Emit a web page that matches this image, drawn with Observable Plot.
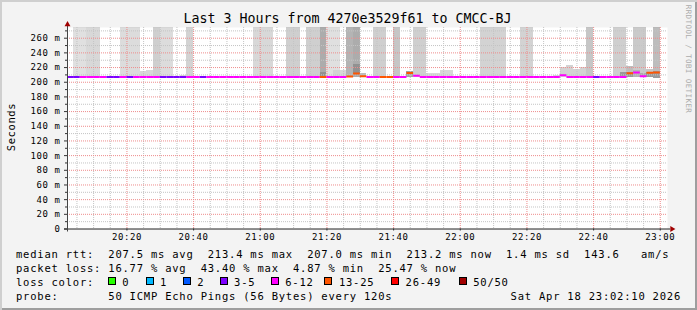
<!DOCTYPE html>
<html>
<head>
<meta charset="utf-8">
<script src="https://cdn.jsdelivr.net/npm/d3@7"></script>
<script src="https://cdn.jsdelivr.net/npm/@observablehq/plot@0.6"></script>
<style>
  html, body { margin: 0; padding: 0; background: #f3f3f3; }
  #chart { position: relative; width: 697px; height: 310px; background: #f3f3f3; overflow: hidden;
           font-family: "DejaVu Sans Mono", monospace; color: #000; }
  #chart svg { position: absolute; left: 0; top: 0; }
  #chart .txt { position: absolute; white-space: pre; font-size: 10.5px; letter-spacing: 0.78px; line-height: 14px; height: 14px; }
  #title { position: absolute; left: 0; width: 695px; top: 11.4px; text-align: center; font-size: 13.3px; line-height: 16px; white-space: pre; }
  #ylabel { position: absolute; left: -19.5px; top: 120px; width: 60px; height: 14px; line-height: 14px; text-align: center;
            font-size: 10.5px; letter-spacing: 0.6px; transform: rotate(-90deg); white-space: pre; }
  #mark { position: absolute; left: 627.7px; top: 54px; width: 120px; height: 10px; line-height: 10px; text-align: center;
          font-size: 7.5px; letter-spacing: 0.42px; color: #ababab; transform: rotate(90deg); white-space: pre; }
  .sq { position: absolute; width: 8px; height: 8px; box-sizing: border-box; border: 1px solid #000; }
  #frame3d { position: absolute; left: 0; top: 0; width: 697px; height: 310px; pointer-events: none;
             box-shadow: inset 2px 2px 0 #cfcfcf, inset -2px -2px 0 #9e9e9e; }
</style>
</head>
<body>
<div id="chart"></div>
<script>
// ---------------- data ----------------
const titleText = "Last 3 Hours from 4270e3529f61 to CMCC-BJ";
const yLabelText = "Seconds";
const watermarkText = "RRDTOOL / TOBI OETIKER";

// 2-minute probe slots, first slot starts 20:02
const slotStart = new Date(2026, 3, 18, 20, 2, 0);
const slotMinutes = 2;
const viewStart = new Date(2026, 3, 18, 20, 2, 10);
const viewEnd = new Date(2026, 3, 18, 23, 2, 10);
const yTop = 274.6;

// median rtt per slot (ms)
const medianRtt = [
  207.3,207.3,207.3,207.3,207.3,207.3,207.3,207.3,207.3,207.3,
  207.3,207.3,207.3,207.3,207.3,207.3,207.3,207.3,207.3,207.3,
  207.3,207.3,207.3,207.3,207.3,207.0,207.3,207.3,207.3,207.3,
  207.3,207.3,207.3,207.3,207.3,207.3,207.3,207.3,207.3,207.3,
  207.3,207.3,207.8,211.8,208.2,207.3,207.3,207.3,207.3,207.3,
  207.3,212.6,208.8,207.3,207.3,207.3,207.3,207.3,207.3,207.3,
  207.3,207.3,207.3,207.3,207.3,207.3,207.3,207.3,207.3,207.3,
  207.3,207.3,207.3,207.3,209.6,207.3,207.3,207.3,207.3,207.3,
  207.3,207.3,207.3,207.3,212.2,213.4,208.0,212.8,213.2
];
// lost pings (of 50) per slot
const lostPings = [
  4,5,8,7,9,8,4,5,7,4,
  8,9,7,8,4,3,5,4,7,8,
  5,8,7,9,8,7,8,10,9,8,
  7,8,9,10,8,7,9,10,14,9,
  8,9,16,21.7,15,10,9,14,15,8,
  9,17,8,9,7,8,8,7,8,7,
  8,7,9,8,9,8,7,8,9,8,
  7,8,7,8,9,8,8,9,10,4,
  8,7,9,10,16,11,9,15,12.7
];

// smoke layers: slot index, low rtt, high rtt (ms), pings in the band
const smokeSlot = [1,2,3,4,8,9,10,11,12,13,14,15,17,18,28,29,30,33,34,36,37,38,38,39,40,40,41,42,43,43,43,44,46,47,49,51,52,53,54,55,56,57,62,63,64,65,68,69,73,74,75,76,77,78,82,83,83,84,84,85,85,86,86,87,87,88,88];
const smokeLow  = [207,207,207,207,207,207,207,207,207,207,207,207,207,207,207,207,207,207,207,207,207,207,212.8,207,207,216,207,207,207,210.6,224,207,207,207,207,206,207,207,207,207,207,207,207,207,207,207,207,207,207,207,207,207,207,207,207,206.5,213,207,213,207,216,206,212,206,213,204.5,215];
const smokeHigh = [320,320,320,320,320,320,320,215,216,320,320,320,209.5,320,320,320,320,320,320,320,320,212.8,320,320,216,320,216,320,210.6,224,320,211.5,320,320,320,214,320,320,212,212,215.5,215.5,320,320,320,320,320,320,209.5,220.5,223,217,220.5,320,320,213,320,213,221.4,216,320,212,320,213,218,215,320];
const smokePings= [1,1,2,2,1.5,1.5,1.5,2,2,3,1.5,1.5,2,2.5,2,2,2,3,3,3,3,10,7,1,2.5,1,2,6,7,10,7,5,3,3,4,8,3,3,2,2,2,2,2.5,2.5,2.5,2.5,2.5,2.5,2,2.5,2.5,2.5,2.5,4,3,9,3,9,5,6,3.5,7,3.5,9,4,9,5];

const yTickValues = [0,20,40,60,80,100,120,140,160,180,200,220,240,260];
const yMinorValues = [10,30,50,70,90,110,130,150,170,190,210,230,250,270];
const xTickLabels = ["20:20","20:40","21:00","21:20","21:40","22:00","22:20","22:40","23:00"];

const lossLabels = ["0","1","2","3-5","6-12","13-25","26-49","50/50"];
const lossColors = ["#26ff00","#00b8ff","#0059ff","#7e00ff","#ff00ff","#ff5500","#ff0000","#a10000"];
const lossThresholds = [0.5,1.5,2.5,5.5,12.5,25.5,49.5];

const statRows = [
  "median rtt:  207.5 ms avg  213.4 ms max  207.0 ms min  213.2 ms now  1.4 ms sd  143.6   am/s",
  "packet loss: 16.77 % avg  43.40 % max  4.87 % min  25.47 % now"
];
const lossRowLabel = "loss color:";
const probeText = "probe:       50 ICMP Echo Pings (56 Bytes) every 120s";
const dateText = "Sat Apr 18 23:02:10 2026";

// ---------------- build ----------------
const slots = medianRtt.map((m, i) => ({
  start: d3.timeMinute.offset(slotStart, i * slotMinutes),
  end: d3.timeMinute.offset(slotStart, (i + 1) * slotMinutes),
  median: m,
  lost: lostPings[i]
}));
const smoke = smokeSlot.map((s, i) => ({
  start: slots[s].start, end: slots[s].end,
  low: smokeLow[i], high: smokeHigh[i], pings: smokePings[i]
}));
const xTicks = xTickLabels.map(s => { const [h, m] = s.split(":").map(Number); return new Date(2026, 3, 18, h, m, 0); });
const xMinor = d3.timeMinute.every(5).range(viewStart, viewEnd).filter(d => d.getMinutes() % 20 !== 0);

const plot = Plot.plot({
  width: 697, height: 250,
  marginLeft: 67, marginRight: 30, marginTop: 27, marginBottom: 21.5,
  style: "background: transparent; font-family: 'DejaVu Sans Mono', monospace; font-size: 9px; letter-spacing: 0.58px; color: #000; overflow: visible;",
  x: {type: "time", domain: [viewStart, viewEnd]},
  y: {domain: [0, yTop]},
  color: {type: "threshold", domain: lossThresholds, range: lossColors},
  opacity: {type: "linear", domain: [1, 12], range: [0.12, 0.5], clamp: true},
  marks: [
    Plot.frame({fill: "#ffffff", stroke: "none"}),
    Plot.rect(smoke, {x1: "start", x2: "end", y1: "low", y2: "high", fill: "#000", fillOpacity: "pings", clip: true, shapeRendering: "crispEdges"}),
    Plot.ruleX(xMinor, {stroke: "#c4c4c4", strokeDasharray: "1,1"}),
    Plot.ruleY(yMinorValues.filter(v => v < yTop), {stroke: "#c4c4c4", strokeDasharray: "1,1"}),
    Plot.ruleX(xTicks, {stroke: "#ee8c8c", strokeDasharray: "1,1"}),
    Plot.ruleY(yTickValues.filter(v => v > 0), {stroke: "#ee8c8c", strokeDasharray: "1,1"}),
    Plot.ruleY(slots, {x1: "start", x2: "end", y: "median", stroke: "lost", strokeWidth: 2, clip: true}),
    Plot.axisY(yTickValues, {tickSize: 3, tickPadding: 4, tickFormat: d => d === 0 ? "0" : `${d} m`, label: null, stroke: "#333"}),
    Plot.axisY(yMinorValues.filter(v => v < yTop), {tickSize: 2, tickFormat: () => "", label: null, stroke: "#333"}),
    Plot.axisX(xTicks, {tickSize: 2, tickPadding: 2.5, tickFormat: d3.timeFormat("%H:%M"), label: null, stroke: "#333"}),
    Plot.ruleY([0], {stroke: "#222", insetLeft: -3, insetRight: -3}),
    Plot.ruleX([viewStart], {stroke: "#444", insetTop: -3, insetBottom: -3}),
    Plot.dot([{x: viewEnd, y: 0}], {x: "x", y: "y", symbol: "triangle", r: 2.2, fill: "#a00000", stroke: "none", rotate: 90, dx: 4.5}),
    Plot.dot([{x: viewStart, y: yTop}], {x: "x", y: "y", symbol: "triangle", r: 2.2, fill: "#a00000", stroke: "none", dy: -3})
  ]
});

const chart = document.getElementById("chart");
chart.appendChild(plot);

function addDiv(id, cls, text, css) {
  const d = document.createElement("div");
  if (id) d.id = id;
  if (cls) d.className = cls;
  d.textContent = text;
  if (css) Object.assign(d.style, css);
  chart.appendChild(d);
  return d;
}
addDiv("title", null, titleText);
addDiv("ylabel", null, yLabelText);
addDiv("mark", null, watermarkText);

const rowTops = [246.9, 260.9, 274.9, 288.9];
statRows.forEach((t, i) => addDiv(null, "txt", t, {left: "16px", top: rowTops[i] + "px"}));
addDiv(null, "txt", lossRowLabel, {left: "16px", top: rowTops[2] + "px"});
const lossKeyX = [107.7, 145.5, 182.7, 219.6, 270.7, 324.4, 391.1, 458.7];
lossLabels.forEach((lab, i) => {
  const sq = document.createElement("div");
  sq.className = "sq";
  sq.style.left = lossKeyX[i] + "px";
  sq.style.top = "277px";
  sq.style.background = lossColors[i];
  chart.appendChild(sq);
  addDiv(null, "txt", lab, {left: (lossKeyX[i] + 14.5) + "px", top: rowTops[2] + "px"});
});
addDiv(null, "txt", probeText, {left: "16px", top: rowTops[3] + "px"});
addDiv(null, "txt", dateText, {right: "16px", top: rowTops[3] + "px"});
addDiv("frame3d", null, "");
</script>
</body>
</html>
